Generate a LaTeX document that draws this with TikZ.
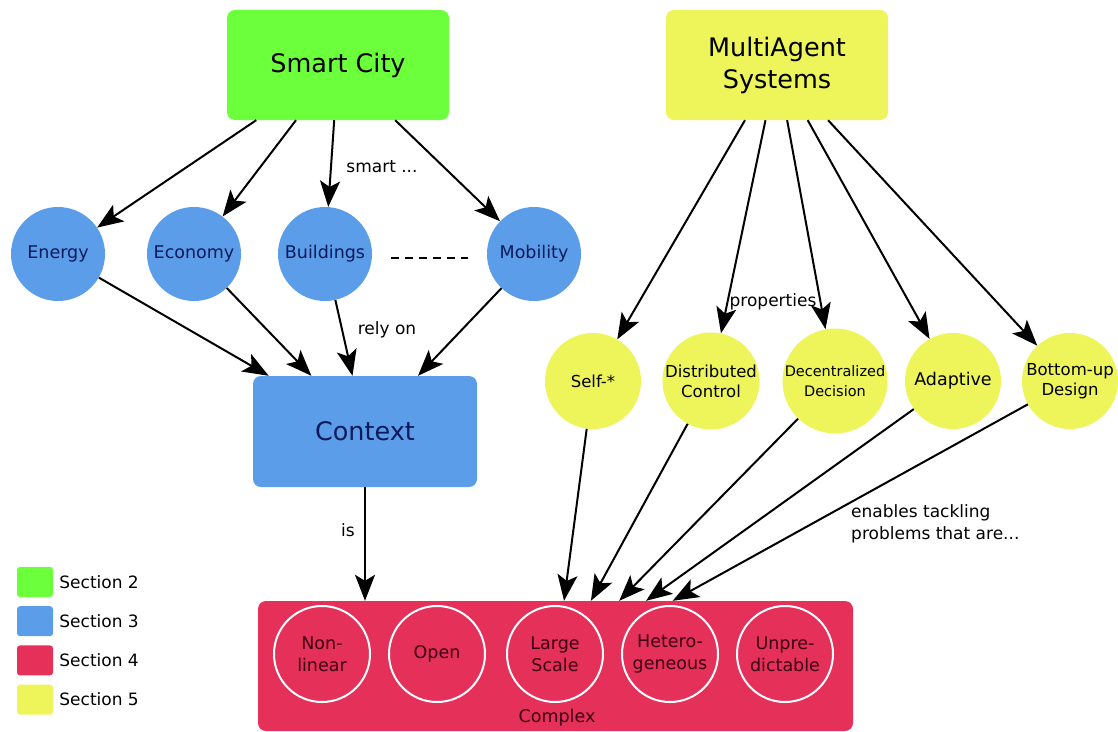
\documentclass[tikz,border=0pt]{standalone}
\usepackage{fontspec}
\setmainfont{DejaVu Sans}
\usetikzlibrary{arrows.meta}
\definecolor{cityGreen}{HTML}{6CFF3C}
\definecolor{ctxBlue}{HTML}{5B9DE8}
\definecolor{cplxRed}{HTML}{E5305A}
\definecolor{masYellow}{HTML}{EDF55A}
\definecolor{navyText}{HTML}{0B1A5A}
\definecolor{darkRed}{HTML}{3A0012}
\newcommand{\setfs}[2]{\fontsize{#1}{#2}\selectfont}
\begin{document}
\begin{tikzpicture}[x=1pt, y=-1pt,
    every node/.style = {align=center, inner sep=0pt},
    bigbox/.style = {rectangle, rounded corners=8pt,
      minimum width=222pt, minimum height=110pt, font=\setfs{25.5}{32}},
    bluedot/.style = {circle, fill=ctxBlue, minimum size=94pt,
      text=navyText, font=\setfs{17.5}{20}},
    yeldot/.style = {circle, fill=masYellow, minimum size=96pt,
      font=\setfs{16.5}{20}},
    ring/.style = {circle, draw=white, line width=2pt, minimum size=96pt,
      text=darkRed, font=\setfs{17.5}{22}},
    lbl/.style = {font=\setfs{17}{22}},
    arr/.style = {-{Stealth[length=26pt,width=20pt,inset=6pt]}, line width=2pt},
    legbox/.style = {rectangle, rounded corners=3pt,
      minimum width=36pt, minimum height=30pt}]
  \useasboundingbox (0,0) rectangle (1118,731);

  % top boxes
  \node[bigbox, fill=cityGreen] (city) at (338,65) {Smart City};
  \node[bigbox, fill=masYellow] (mas) at (777,65) {MultiAgent\\Systems};

  % smart ... domains
  \node[bluedot] (energy) at (58,254) {Energy};
  \node[bluedot] (econ) at (194,254) {Economy};
  \node[bluedot] (bld) at (325,254) {Buildings};
  \node[bluedot] (mob) at (534,254) {Mobility};
  \draw[dashed, dash pattern=on 8pt off 6pt, line width=1.5pt]
    ([xshift=19pt,yshift=-4pt]bld.east) -- ([xshift=-19pt,yshift=-4pt]mob.west);

  \node[bigbox, fill=ctxBlue, minimum width=224pt, minimum height=111pt,
    text=navyText] (ctx) at (365,431.5) {Context};

  % MAS properties
  \node[yeldot] (self) at (593,381) {Self-*};
  \node[yeldot] (dist) at (711,381) {Distributed\\Control};
  \node[yeldot, font=\setfs{14.5}{20}] (dec) at (835,381) {Decentralized\\Decision};
  \node[yeldot, font=\setfs{17.5}{20}] (adapt) at (953,381) {Adaptive};
  \node[yeldot] (bottom) at (1070,381) {Bottom-up\\Design};

  % complex problems
  \node[rectangle, rounded corners=8pt, fill=cplxRed,
    minimum width=595pt, minimum height=130pt] (cplx) at (555.5,666) {};
  \node[ring] (nonlin) at (322,654) {Non-\\linear};
  \node[ring] (open) at (437,654) {Open};
  \node[ring] (large) at (555,654) {Large\\Scale};
  \node[ring] (hetero) at (670,654) {Hetero-\\geneous};
  \node[ring] (unpred) at (785,654) {Unpre-\\dictable};
  \node[text=darkRed, font=\setfs{17.5}{20}] (cplxtxt) at (557,718) {Complex};

  % connectors
  \foreach \t in {energy,econ,bld,mob} {
    \draw[arr] (city) -- (\t);
    \draw[arr] (\t) -- (ctx);
  }
  \draw[arr] (ctx) -- (ctx |- cplx.north);
  \foreach \t in {self,dist,dec,adapt,bottom} {
    \draw[arr] (mas) -- (\t);
    \draw[arr] (\t) -- (cplx);
  }

  % edge labels
  \node[lbl] (smartlbl) at (382,167) {smart ...};
  \node[lbl] (relylbl) at (387,330) {rely on};
  \node[lbl] (islbl) at (348,530) {is};
  \node[lbl] (proplbl) at (773,302) {properties};
  \node[lbl, align=left, anchor=west] (enablbl) at (851,524)
    {enables tackling\\problems that are...};

  % legend
  \foreach \c/\n [count=\i] in {cityGreen/2, ctxBlue/3, cplxRed/4, masYellow/5} {
    \node[legbox, fill=\c] (leg\i) at (35,{582+39.2*(\i-1)}) {};
    \node[lbl, anchor=west, font=\setfs{17}{20}] (legtxt\i)
      at ([xshift=6pt]leg\i.east) {Section \n};
  }
\end{tikzpicture}
\end{document}
